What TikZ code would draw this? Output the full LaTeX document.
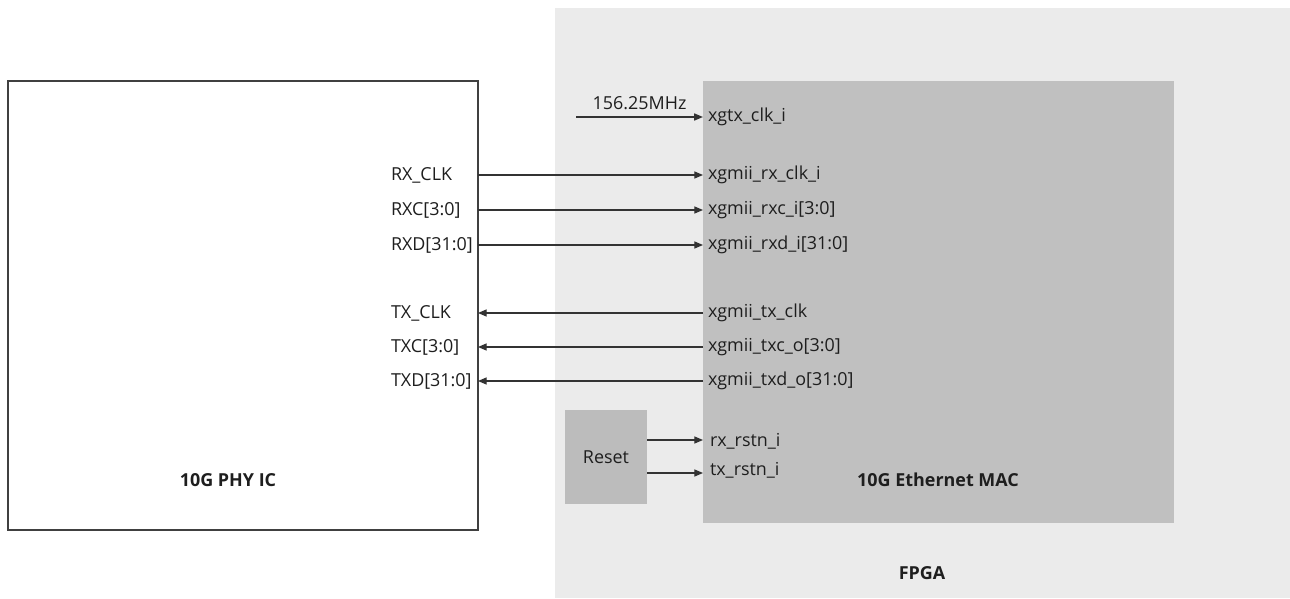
\documentclass[tikz,border=0pt]{standalone}
\usepackage{fontspec}
\setmainfont{Open Sans}
\usetikzlibrary{arrows.meta}
\definecolor{fpgabg}{HTML}{EBEBEB}
\definecolor{macbg}{HTML}{C0C0C0}
\definecolor{linec}{HTML}{333333}
\definecolor{txtc}{HTML}{1E1E1E}
\begin{document}
\begin{tikzpicture}[x=0.02cm,y=-0.02cm,
  every node/.style={inner sep=0pt,outer sep=0pt,text=txtc,font=\fontsize{10.2}{12}\selectfont},
  sig/.style={draw=linec,line width=0.8pt,-{Triangle[length=5pt,width=4pt]}},
  pin/.style={anchor=west},
  title/.style={font=\fontsize{10.2}{12}\selectfont\bfseries}
]
\useasboundingbox (0,0) rectangle (1290,598);
% FPGA region
\node[fill=fpgabg,minimum width=14.7cm,minimum height=11.8cm] (fpga) at (922.5,303) {};
% PHY
\node[draw=black!75,line width=0.8pt,fill=white,minimum width=9.4cm,minimum height=8.98cm] (phy) at (243,305.5) {};
% MAC
\node[fill=macbg,minimum width=9.42cm,minimum height=8.84cm] (mac) at (938.5,302) {};
% Reset
\node[fill=macbg!98!black,minimum width=1.64cm,minimum height=1.88cm] (rst) at (606,457) {Reset};

\node[title] (phyt) at (228,480) {10G PHY IC};
\node[title] (mact) at (938,480) {10G Ethernet MAC};
\node[title] (fpgat) at (922,573) {FPGA};

% clock source
\coordinate (clksrc) at (576,117);
\coordinate (clkin) at (703,117);
\draw[sig] (clksrc) -- node[above=4pt] (clkl) {156.25MHz} (clkin);
\node[pin] (p0) at (708,117) {xgtx\_clk\_i};

% RX signals
\foreach \y/\l/\r [count=\i] in {175/RX\_CLK/xgmii\_rx\_clk\_i,210/RXC[3:0]/xgmii\_rxc\_i[3:0],245/RXD[31:0]/xgmii\_rxd\_i[31:0]}{
  \coordinate (ra\i) at (phy.east |- 0,\y);
  \coordinate (rb\i) at (mac.west |- 0,\y);
  \draw[sig] (ra\i) -- (rb\i);
  \node[pin] (rl\i) at (391,\y) {\l};
  \node[pin] (rr\i) at (708,\y) {\r};
}
% TX signals
\foreach \y/\l/\r [count=\i] in {313/TX\_CLK/xgmii\_tx\_clk,347/TXC[3:0]/xgmii\_txc\_o[3:0],381/TXD[31:0]/xgmii\_txd\_o[31:0]}{
  \coordinate (ta\i) at (mac.west |- 0,\y);
  \coordinate (tb\i) at (phy.east |- 0,\y);
  \draw[sig] (ta\i) -- (tb\i);
  \node[pin] (tl\i) at (391,\y) {\l};
  \node[pin] (tr\i) at (708,\y) {\r};
}
% Reset signals
\foreach \y/\r [count=\i] in {440/rx\_rstn\_i,473/tx\_rstn\_i}{
  \coordinate (sa\i) at (rst.east |- 0,\y);
  \coordinate (sb\i) at (mac.west |- 0,\y);
  \draw[sig] (sa\i) -- (sb\i);
}
\node[pin] (sr1) at (710,441) {rx\_rstn\_i};
\node[pin] (sr2) at (710,470) {tx\_rstn\_i};
\end{tikzpicture}
\end{document}
